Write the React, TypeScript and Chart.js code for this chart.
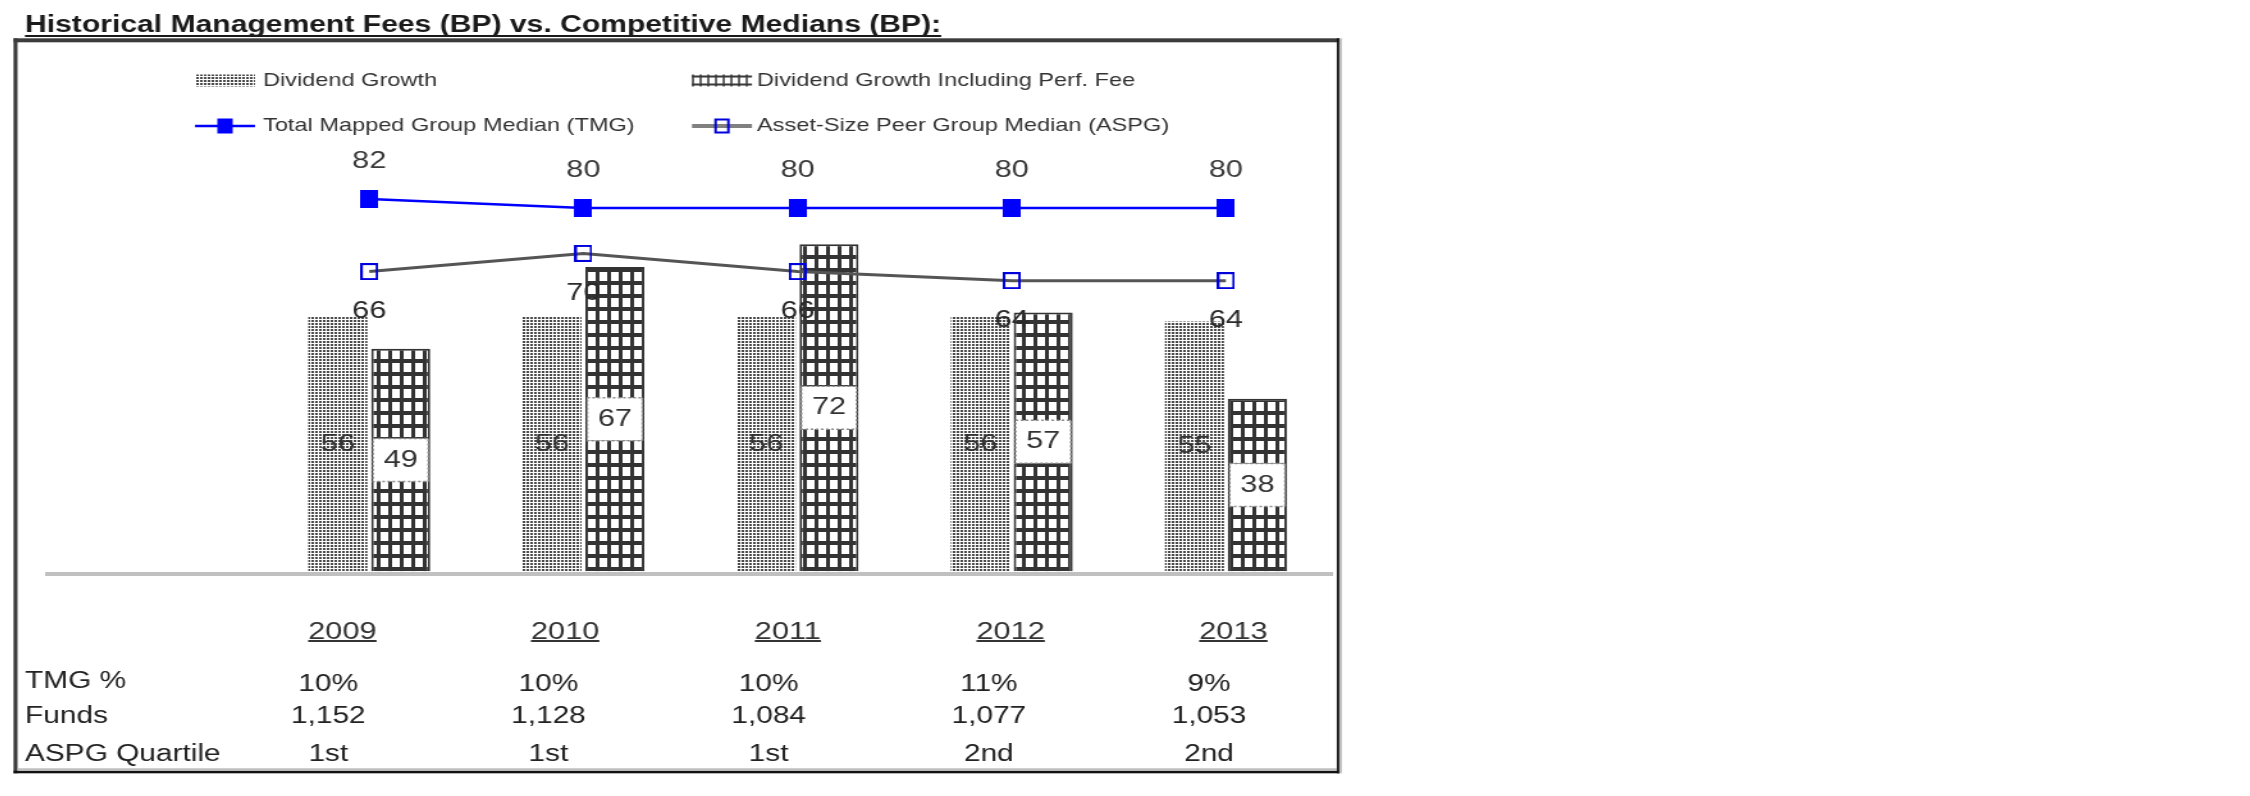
import React, { useEffect, useRef } from 'react';
import { Chart, registerables } from 'chart.js';

Chart.register(...registerables);

// ---------------- data ----------------
const chartTitle = 'Historical Management Fees (BP) vs. Competitive Medians (BP):';
const categories = ['2009', '2010', '2011', '2012', '2013'];
const seriesLabels = [
  'Dividend Growth',
  'Dividend Growth Including Perf. Fee',
  'Total Mapped Group Median (TMG)',
  'Asset-Size Peer Group Median (ASPG)',
];
const dividendGrowth = [56, 56, 56, 56, 55];
const dividendGrowthPerfFee = [49, 67, 72, 57, 38];
const tmgMedian = [82, 80, 80, 80, 80];
const aspgMedian = [66, 70, 66, 64, 64];
const tableRowLabels = ['TMG %', 'Funds', 'ASPG Quartile'];
const tmgPercent = ['10%', '10%', '10%', '11%', '9%'];
const fundsCount = ['1,152', '1,128', '1,084', '1,077', '1,053'];
const aspgQuartile = ['1st', '1st', '1st', '2nd', '2nd'];

// ---------------- layout ----------------
const CSS_W = 2234;
const CSS_H = 778;
const INT_W = 1745;
const SX = CSS_W / INT_W;
const fx = (X: number) => (X - 8) / SX;
const fy = (Y: number) => Y - 8;
const FONT = "'Liberation Sans', Arial, Helvetica, sans-serif";

const PX_PER_UNIT = 4.54;
const Y_MIN = -0.5;
const Y_MAX = 100;
const AREA_BOTTOM = fy(573.5);
const AREA_TOP = AREA_BOTTOM - (Y_MAX - Y_MIN) * PX_PER_UNIT;
const AREA_LEFT = fx(48);
const AREA_RIGHT = fx(1333);

function makeDots(): HTMLCanvasElement {
  const c = document.createElement('canvas');
  c.width = 3;
  c.height = 3;
  const g = c.getContext('2d')!;
  g.fillStyle = '#ffffff';
  g.fillRect(0, 0, 3, 3);
  g.fillStyle = '#4a4a4a';
  g.fillRect(0, 0, 2, 2);
  return c;
}

function makeGrid(): HTMLCanvasElement {
  const c = document.createElement('canvas');
  c.width = 9;
  c.height = 13;
  const g = c.getContext('2d')!;
  g.fillStyle = '#ffffff';
  g.fillRect(0, 0, 9, 13);
  g.fillStyle = '#333333';
  g.fillRect(0, 0, 3, 13);
  g.fillRect(0, 0, 9, 4);
  return c;
}

function makeMarker(filled: boolean, w: number, h: number): HTMLCanvasElement {
  const c = document.createElement('canvas');
  c.width = w;
  c.height = h;
  const g = c.getContext('2d')!;
  if (filled) {
    g.fillStyle = '#0000ff';
    g.fillRect(0, 0, w, h);
  } else {
    g.strokeStyle = '#0000dd';
    g.lineWidth = 2;
    g.strokeRect(1, 1, w - 2, h - 2);
  }
  return c;
}

export default function App() {
  const ref = useRef<HTMLCanvasElement>(null);

  useEffect(() => {
    const canvas = ref.current;
    if (!canvas) return;
    const ctx0 = canvas.getContext('2d')!;
    const dotPattern = ctx0.createPattern(makeDots(), 'repeat')!;
    const gridPattern = ctx0.createPattern(makeGrid(), 'repeat')!;
    const tmgMarker = makeMarker(true, 14, 18);
    const aspgMarker = makeMarker(false, 14, 17);

    const decor = {
      id: 'decor',
      beforeDraw(chart: any) {
        const ctx = chart.ctx as CanvasRenderingContext2D;
        ctx.save();
        ctx.fillStyle = '#ffffff';
        ctx.fillRect(0, 0, chart.width, chart.height);
        // frame
        ctx.fillStyle = '#3c3c3c';
        ctx.fillRect(fx(13.5), fy(38.3), fx(1339.3) - fx(13.5), 4);
        ctx.fillRect(fx(13.5), fy(38.3), fx(17.5) - fx(13.5), fy(773.3) - fy(38.3));
        ctx.fillStyle = '#111111';
        ctx.fillRect(fx(1336.8), fy(38.3), fx(1339.3) - fx(1336.8), fy(773.3) - fy(38.3));
        ctx.fillRect(fx(13.5), fy(770.7), fx(1339.3) - fx(13.5), 2.6);
        ctx.fillStyle = '#bdbdbd';
        ctx.fillRect(fx(1339.3), fy(38.3), fx(1341.8) - fx(1339.3), fy(773.3) - fy(38.3));
        ctx.fillRect(fx(17.5), fy(768.3), fx(1336.8) - fx(17.5), 2.4);
        // title
        ctx.font = `bold 23.5px ${FONT}`;
        ctx.fillStyle = '#1a1a1a';
        ctx.textAlign = 'left';
        ctx.textBaseline = 'alphabetic';
        const tx = fx(25);
        ctx.fillText(chartTitle, tx, fy(32));
        const tw = ctx.measureText(chartTitle).width;
        ctx.fillRect(tx, fy(35), tw, 2);
        ctx.restore();
      },
      afterDatasetsDraw(chart: any) {
        const ctx = chart.ctx as CanvasRenderingContext2D;
        const ds = chart.data.datasets;
        ctx.save();
        ctx.font = `24px ${FONT}`;
        ctx.textAlign = 'center';
        ctx.textBaseline = 'middle';
        // Dividend Growth labels (inside bar, centred)
        chart.getDatasetMeta(0).data.forEach((el: any, i: number) => {
          const v = ds[0].data[i];
          if (v == null) return;
          const p = el.getProps(['x', 'y', 'base'], true);
          ctx.fillStyle = '#333333';
          ctx.fillText(String(v), p.x, (p.y + p.base) / 2);
        });
        // Perf fee labels with white box
        chart.getDatasetMeta(1).data.forEach((el: any, i: number) => {
          const v = ds[1].data[i];
          if (v == null) return;
          const p = el.getProps(['x', 'y', 'base', 'width'], true);
          const cy = (p.y + p.base) / 2;
          const bw = p.width - 3;
          const bh = 43;
          ctx.fillStyle = '#ffffff';
          ctx.fillRect(p.x - bw / 2, cy - bh / 2, bw, bh);
          ctx.save();
          ctx.setLineDash([2, 2]);
          ctx.strokeStyle = '#8a8a8a';
          ctx.lineWidth = 1.5;
          ctx.strokeRect(p.x - bw / 2, cy - bh / 2, bw, bh);
          ctx.restore();
          ctx.fillStyle = '#333333';
          ctx.fillText(String(v), p.x, cy);
        });
        // TMG labels above
        chart.getDatasetMeta(2).data.forEach((el: any, i: number) => {
          const v = ds[2].data[i];
          if (v == null) return;
          const p = el.getProps(['x', 'y'], true);
          ctx.fillStyle = '#3a3a3a';
          ctx.fillText(String(v), p.x, p.y - 38);
        });
        // ASPG labels below
        chart.getDatasetMeta(3).data.forEach((el: any, i: number) => {
          const v = ds[3].data[i];
          if (v == null) return;
          const p = el.getProps(['x', 'y'], true);
          ctx.fillStyle = '#2a2a2a';
          ctx.fillText(String(v), p.x, p.y + 40);
        });
        ctx.restore();
      },
      afterDraw(chart: any) {
        const ctx = chart.ctx as CanvasRenderingContext2D;
        const ds = chart.data.datasets;
        const xs = chart.scales.x;
        ctx.save();
        // ----- legend -----
        const r1 = fy(80.5);
        const r2 = fy(126);
        const c1a = fx(195), c1b = fx(255), t1 = fx(263);
        const c2a = fx(692), c2b = fx(752), t2 = fx(757);
        ctx.fillStyle = dotPattern;
        ctx.fillRect(c1a, r1 - 6, c1b - c1a, 12);
        ctx.fillStyle = '#383838';
        for (let x = c2a; x < c2b; x += 6) ctx.fillRect(x, r1 - 6, 1.5, 12);
        ctx.fillRect(c2a, r1 - 5, c2b - c2a, 2);
        ctx.fillRect(c2a, r1 + 3, c2b - c2a, 2);
        // TMG legend line
        ctx.strokeStyle = '#0000ff';
        ctx.lineWidth = 2.5;
        ctx.beginPath();
        ctx.moveTo(c1a, r2);
        ctx.lineTo(c1b, r2);
        ctx.stroke();
        ctx.fillStyle = '#0000ff';
        const m1 = (c1a + c1b) / 2;
        ctx.fillRect(m1 - 6, r2 - 7.5, 12, 15);
        // ASPG legend line
        ctx.strokeStyle = '#808080';
        ctx.lineWidth = 4;
        ctx.beginPath();
        ctx.moveTo(c2a, r2);
        ctx.lineTo(c2b, r2);
        ctx.stroke();
        ctx.strokeStyle = '#0000dd';
        ctx.lineWidth = 2;
        const m2 = (c2a + c2b) / 2;
        ctx.strokeRect(m2 - 5, r2 - 6.5, 10, 13);
        ctx.font = `18.4px ${FONT}`;
        ctx.fillStyle = '#333333';
        ctx.textAlign = 'left';
        ctx.textBaseline = 'middle';
        ctx.fillText(ds[0].label, t1, r1);
        ctx.fillText(ds[1].label, t2, r1);
        ctx.fillText(ds[2].label, t1, r2);
        ctx.fillText(ds[3].label, t2, r2);

        // ----- category labels (underlined) -----
        ctx.font = `24px ${FONT}`;
        ctx.textAlign = 'center';
        ctx.fillStyle = '#333333';
        categories.forEach((c, i) => {
          const x = xs.getPixelForTick(i + 1) - 21 + 6.7 * i;
          const y = fy(632);
          ctx.fillText(c, x, y);
          const w = ctx.measureText(c).width;
          ctx.fillRect(x - w / 2, fy(640), w, 2);
        });

        // ----- table -----
        const rowsY = [fy(682), fy(717), fy(755)];
        const rows = [tmgPercent, fundsCount, aspgQuartile];
        ctx.font = `23.3px ${FONT}`;
        ctx.fillStyle = '#222222';
        ctx.textAlign = 'left';
        tableRowLabels.forEach((lab, r) => ctx.fillText(lab, fx(25), rowsY[r]));
        ctx.textAlign = 'center';
        rows.forEach((row, r) => {
          row.forEach((val, i) => {
            const x = xs.getPixelForTick(i + 1) - 32 + 4.7 * i;
            ctx.fillText(val, x, rowsY[r] + (r === 0 ? 3 : 0));
          });
        });
        ctx.restore();
      },
    };

    const pad = (arr: number[]) => [null, ...arr];

    const chart = new Chart(canvas, {
      type: 'bar',
      data: {
        labels: ['', ...categories],
        datasets: [
          {
            type: 'bar',
            label: seriesLabels[0],
            data: pad(dividendGrowth),
            backgroundColor: dotPattern,
            borderWidth: 0,
            order: 2,
            categoryPercentage: 0.587,
            barPercentage: 0.939,
          },
          {
            type: 'bar',
            label: seriesLabels[1],
            data: pad(dividendGrowthPerfFee),
            backgroundColor: gridPattern,
            borderColor: '#333333',
            borderWidth: { left: 2, right: 2, top: 2, bottom: 0 },
            borderSkipped: 'start',
            order: 2,
            categoryPercentage: 0.587,
            barPercentage: 0.939,
          },
          {
            type: 'line',
            label: seriesLabels[2],
            data: pad(tmgMedian),
            borderColor: '#0000ff',
            borderWidth: 2.5,
            pointStyle: tmgMarker,
            pointRadius: 9,
            tension: 0,
            fill: false,
            order: 1,
          },
          {
            type: 'line',
            label: seriesLabels[3],
            data: pad(aspgMedian),
            borderColor: '#555555',
            borderWidth: 3,
            pointStyle: aspgMarker,
            pointRadius: 9,
            tension: 0,
            fill: false,
            order: 1,
          },
        ] as any,
      },
      options: {
        responsive: false,
        animation: false,
        devicePixelRatio: 1,
        events: [],
        layout: {
          padding: {
            left: AREA_LEFT,
            right: INT_W - AREA_RIGHT,
            top: AREA_TOP,
            bottom: CSS_H - AREA_BOTTOM,
          },
        },
        plugins: {
          legend: { display: false },
          title: { display: false },
          tooltip: { enabled: false },
        },
        scales: {
          x: {
            display: true,
            grid: { display: false, drawTicks: false },
            ticks: { display: false },
            border: { display: true, color: '#c0c0c0', width: 4, z: 1 },
          },
          y: {
            display: false,
            min: Y_MIN,
            max: Y_MAX,
          },
        },
      },
      plugins: [decor],
    } as any);

    return () => chart.destroy();
  }, []);

  return (
    <canvas
      ref={ref}
      width={INT_W}
      height={CSS_H}
      style={{ width: `${CSS_W}px`, height: `${CSS_H}px`, display: 'block' }}
    />
  );
}
